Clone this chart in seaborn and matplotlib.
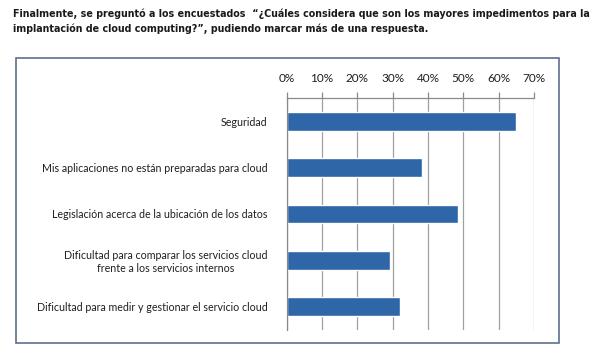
import matplotlib
matplotlib.use("Agg")
import matplotlib.pyplot as plt
import seaborn as sns
import pandas as pd
from matplotlib.patches import Rectangle
from matplotlib.ticker import PercentFormatter, FixedLocator

# Data
categories = [
    "Seguridad",
    "Mis aplicaciones no están preparadas para cloud",
    "Legislación acerca de la ubicación de los datos",
    "Dificultad para comparar los servicios cloud\nfrente a los servicios internos",
    "Dificultad para medir y gestionar el servicio cloud",
]
values = [0.648, 0.384, 0.484, 0.292, 0.320]
x_ticks = [0, 0.1, 0.2, 0.3, 0.4, 0.5, 0.6, 0.7]

sns.set_style("white")
plt.rcParams['font.family'] = ['Lato', 'DejaVu Sans']

df = pd.DataFrame({"Impedimento": categories, "Porcentaje": values})

fig = plt.figure(figsize=(6, 3.54), dpi=100)
ax = fig.add_axes([0.478, 0.068, 0.412, 0.655])

sns.barplot(data=df, y="Impedimento", x="Porcentaje", orient="h",
            color="#2f66a8", width=0.4, saturation=1, ax=ax)

ax.set_xlim(0, 0.7)
ax.set_ylim(4.5, -0.5)
ax.xaxis.tick_top()
ax.set_xticks(x_ticks)
ax.xaxis.set_major_formatter(PercentFormatter(1.0, decimals=0))
ax.grid(axis="x", color="#a0a0a0", linewidth=0.9)
ax.set_axisbelow(True)
ax.set_xlabel("")
ax.set_ylabel("")

for side in ["right", "bottom"]:
    ax.spines[side].set_visible(False)
for side in ["top", "left"]:
    ax.spines[side].set_color("#8a8a8a")
    ax.spines[side].set_linewidth(0.9)

ax.tick_params(axis="x", which="major", direction="out", length=4, width=0.9,
               color="#8a8a8a", labelsize=8.5, pad=6, labelcolor="#1e1e1e")
ax.tick_params(axis="y", which="major", length=0, labelsize=7.7, pad=14,
               labelcolor="#1e1e1e")
ax.yaxis.set_minor_locator(FixedLocator([-0.5, 0.5, 1.5, 2.5, 3.5, 4.5]))
ax.tick_params(axis="y", which="minor", direction="out", length=4, width=0.9,
               color="#8a8a8a")
for lbl in ax.get_yticklabels():
    lbl.set_horizontalalignment("right")
    lbl.set_multialignment("center")

# chart frame
fig.patches.append(Rectangle((0.026, 0.031), 0.906, 0.805, transform=fig.transFigure,
                             fill=False, edgecolor="#5d708e", linewidth=1.2))

fig.text(0.022, 0.975,
         "Finalmente, se preguntó a los encuestados  \u201c¿Cuáles considera que son los mayores impedimentos para la\n"
         "implantación de cloud computing?\u201d, pudiendo marcar más de una respuesta.",
         ha="left", va="top", fontsize=7.7, fontweight="bold", linespacing=1.5,
         family=["DejaVu Sans"], fontstretch="condensed", color="#1a1a1a")

fig.savefig("out.png", dpi=100)
